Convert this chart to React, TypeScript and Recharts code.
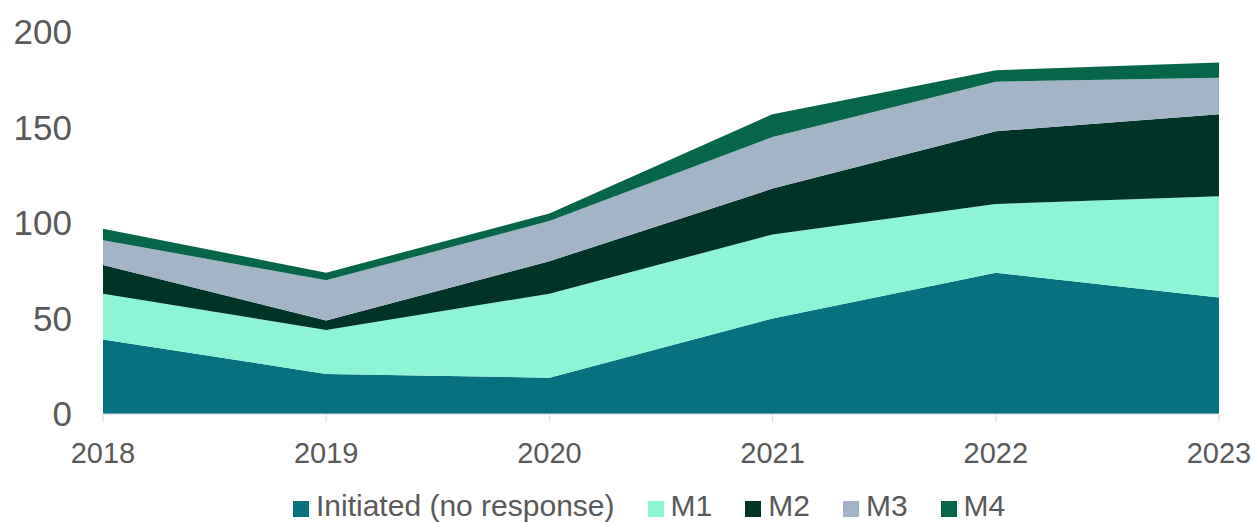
import { AreaChart, Area, XAxis, YAxis, Legend } from 'recharts';

const years = ['2018', '2019', '2020', '2021', '2022', '2023'];
const initiated = [39, 21, 19, 50, 74, 61];
const m1 = [24, 23, 44, 44, 36, 53];
const m2 = [15, 5, 17, 24, 38, 43];
const m3 = [13, 21, 21, 27, 26, 19];
const m4 = [6, 4, 4, 12, 6, 8];
const yTicks = [0, 50, 100, 150, 200];

const series = [
  { key: 'initiated', name: 'Initiated (no response)', color: '#08717f', values: initiated },
  { key: 'm1', name: 'M1', color: '#8ef4d6', values: m1 },
  { key: 'm2', name: 'M2', color: '#013326', values: m2 },
  { key: 'm3', name: 'M3', color: '#a4b4c7', values: m3 },
  { key: 'm4', name: 'M4', color: '#07664a', values: m4 },
];

const data = years.map((year, i) => {
  const row: Record<string, string | number> = { year };
  series.forEach(s => {
    row[s.key] = s.values[i];
  });
  return row;
});

const textColor = '#595959';
const font = '"Liberation Sans", Arial, sans-serif';

// Legend laid out by hand so the squares sit like the original
function ChartLegend() {
  return (
    <div style={{ height: 64, display: 'flex', alignItems: 'flex-start', paddingLeft: 293 }}>
      <div style={{ display: 'flex', alignItems: 'center', marginTop: 32 }}>
        {series.map(s => (
          <div key={s.key} style={{ display: 'flex', alignItems: 'center', marginRight: 33 }}>
            <span
              style={{
                width: 16,
                height: 16,
                background: s.color,
                display: 'inline-block',
                marginRight: 7,
                marginTop: 6,
              }}
            />
            <span style={{ fontFamily: font, fontSize: 30, color: textColor, lineHeight: '30px', whiteSpace: 'nowrap' }}>
              {s.name}
            </span>
          </div>
        ))}
      </div>
    </div>
  );
}

export default function App() {
  return (
    <div style={{ position: 'absolute', left: 0, top: 0, width: 1255, height: 523, background: '#fff' }}>
      <AreaChart width={1255} height={523} data={data} margin={{ top: 32, right: 36, left: 0, bottom: 0 }}>
        <XAxis
          dataKey="year"
          axisLine={{ stroke: '#d9d9d9' }}
          tickLine={{ stroke: '#d9d9d9' }}
          tickSize={8}
          tickMargin={20}
          height={45}
          interval={0}
          tick={{ fill: textColor, fontSize: 29, fontFamily: font }}
        />
        <YAxis
          domain={[0, 200]}
          ticks={yTicks}
          width={103}
          axisLine={false}
          tickLine={false}
          tickSize={0}
          tickMargin={31}
          tick={{ fill: textColor, fontSize: 35, fontFamily: font }}
        />
        <Legend verticalAlign="bottom" content={<ChartLegend />} />
        {series.map(s => (
          <Area
            key={s.key}
            type="linear"
            dataKey={s.key}
            name={s.name}
            stackId="1"
            stroke="none"
            fill={s.color}
            fillOpacity={1}
            isAnimationActive={false}
          />
        ))}
      </AreaChart>
    </div>
  );
}
